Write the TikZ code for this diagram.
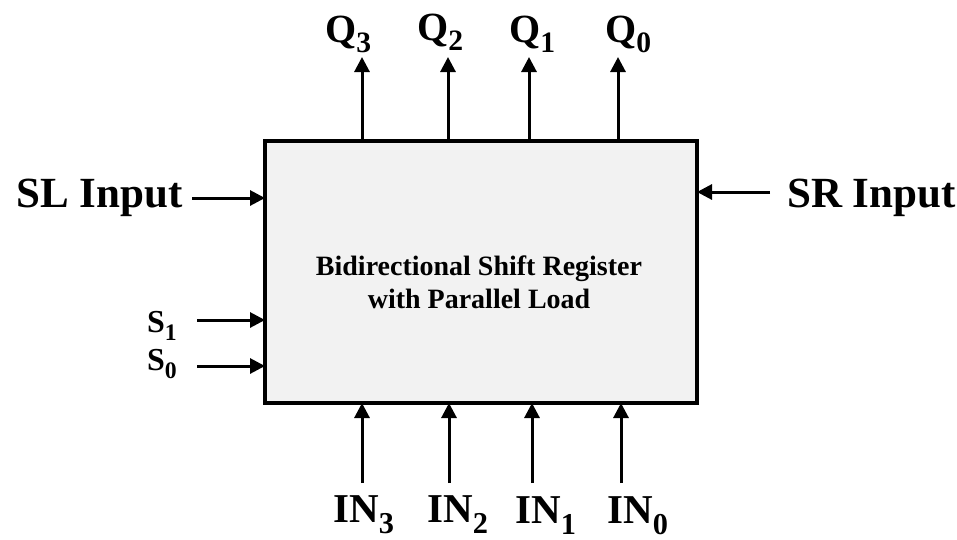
\documentclass[tikz,border=0pt]{standalone}
\usepackage{fontspec}
\usepackage{graphicx}
\setmainfont{Liberation Serif}
\usetikzlibrary{arrows.meta}
\definecolor{boxfill}{HTML}{F2F2F2}
\newcommand\lsub[1]{\raisebox{-0.27em}{\scalebox{0.74}{#1}}}
\begin{document}
\begin{tikzpicture}[x=1pt,y=-1pt,
  sig/.style={line width=3pt,-{Triangle[width=15pt,length=15pt]}},
  regbox/.style={draw,line width=4pt,fill=boxfill,minimum width=432pt,minimum height=262pt,inner sep=0pt,outer sep=0pt},
  biglab/.style={font=\fontsize{43}{47}\selectfont\bfseries,inner sep=0pt},
  qlab/.style={font=\fontsize{40}{44}\selectfont\bfseries,inner sep=0pt,anchor=base west},
  inlab/.style={font=\fontsize{41}{45}\selectfont\bfseries,inner sep=0pt,anchor=base west},
  slab/.style={font=\fontsize{32}{36}\selectfont\bfseries,inner sep=0pt,anchor=base east},
  title/.style={font=\fontsize{28}{33}\selectfont\bfseries,align=center,inner sep=0pt}]
\useasboundingbox (0,0) rectangle (957,539);
\node[regbox] (reg) at (481,272) {};
\node[title] (ttl) at (479,282) {Bidirectional Shift Register\\with Parallel Load};
% outputs
\coordinate (q3) at (362,57);
\coordinate (q2) at (448,57);
\coordinate (q1) at (529,57);
\coordinate (q0) at (618,57);
\foreach \c in {q3,q2,q1,q0} \draw[sig] (reg.north -| \c) -- (\c);
\node[qlab] (lq3) at (325,42) {Q\lsub{3}};
\node[qlab] (lq2) at (417,40) {Q\lsub{2}};
\node[qlab] (lq1) at (509,42) {Q\lsub{1}};
\node[qlab] (lq0) at (605,42) {Q\lsub{0}};
% inputs
\coordinate (i3) at (362,483);
\coordinate (i2) at (449,483);
\coordinate (i1) at (532,483);
\coordinate (i0) at (621,483);
\foreach \c in {i3,i2,i1,i0} \draw[sig] (\c) -- (\c |- reg.south);
\node[inlab] (li3) at (333,522) {IN\lsub{3}};
\node[inlab] (li2) at (427,522) {IN\lsub{2}};
\node[inlab] (li1) at (515,523) {IN\lsub{1}};
\node[inlab] (li0) at (607,523) {IN\lsub{0}};
% serial inputs
\node[biglab,anchor=base east] (sl) at (183,207) {SL Input};
\node[biglab,anchor=base west] (sr) at (787,207) {SR Input};
\coordinate (slc) at (192,198);
\coordinate (src) at (770,192);
\draw[sig] (slc) -- (slc -| reg.west);
\draw[sig] (src) -- (src -| reg.east);
% selects
\node[slab] (s1) at (177,332) {S\lsub{1}};
\node[slab] (s0) at (177,370) {S\lsub{0}};
\coordinate (s1c) at (197,320);
\coordinate (s0c) at (197,366);
\draw[sig] (s1c) -- (s1c -| reg.west);
\draw[sig] (s0c) -- (s0c -| reg.west);
\end{tikzpicture}
\end{document}
